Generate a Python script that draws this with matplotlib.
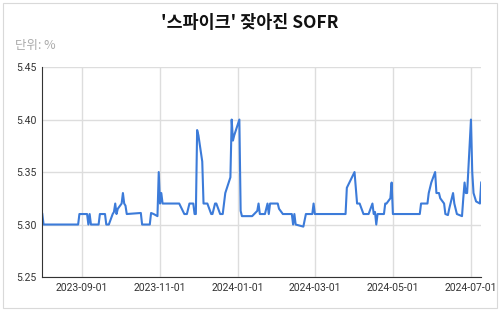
import numpy as np
import pandas as pd
import matplotlib
matplotlib.use('Agg')
import matplotlib.pyplot as plt
import matplotlib.dates as mdates
from matplotlib.patches import Rectangle

plt.rcParams['font.family'] = ['Noto Sans CJK KR', 'DejaVu Sans']

# SOFR (%)
dates = [
    '2023-08-01', '2023-08-02', '2023-08-29', '2023-08-30', '2023-09-05', '2023-09-06',
    '2023-09-07', '2023-09-08', '2023-09-14', '2023-09-15', '2023-09-19', '2023-09-20',
    '2023-09-22', '2023-09-25', '2023-09-26', '2023-09-27', '2023-09-28', '2023-09-29',
    '2023-10-02', '2023-10-03', '2023-10-04', '2023-10-05', '2023-10-06', '2023-10-17',
    '2023-10-18', '2023-10-24', '2023-10-25', '2023-10-27', '2023-10-30', '2023-10-31',
    '2023-11-01', '2023-11-02', '2023-11-03', '2023-11-16', '2023-11-20', '2023-11-22',
    '2023-11-24', '2023-11-27', '2023-11-28', '2023-11-29', '2023-11-30', '2023-12-01',
    '2023-12-04', '2023-12-05', '2023-12-08', '2023-12-11', '2023-12-12', '2023-12-14',
    '2023-12-15', '2023-12-18', '2023-12-20', '2023-12-21', '2023-12-22', '2023-12-26',
    '2023-12-27', '2023-12-28', '2023-12-29', '2024-01-02', '2024-01-03', '2024-01-04',
    '2024-01-12', '2024-01-16', '2024-01-17', '2024-01-18', '2024-01-22', '2024-01-24',
    '2024-01-25', '2024-01-26', '2024-02-01', '2024-02-02', '2024-02-05', '2024-02-12',
    '2024-02-13', '2024-02-14', '2024-02-15', '2024-02-21', '2024-02-23', '2024-02-28',
    '2024-02-29', '2024-03-01', '2024-03-25', '2024-03-26', '2024-03-28', '2024-04-01',
    '2024-04-02', '2024-04-03', '2024-04-05', '2024-04-08', '2024-04-12', '2024-04-15',
    '2024-04-16', '2024-04-17', '2024-04-18', '2024-04-19', '2024-04-24', '2024-04-25',
    '2024-04-26', '2024-04-29', '2024-04-30', '2024-05-01', '2024-05-22', '2024-05-23',
    '2024-05-28', '2024-05-29', '2024-05-31', '2024-06-03', '2024-06-04', '2024-06-06',
    '2024-06-07', '2024-06-10', '2024-06-11', '2024-06-13', '2024-06-14', '2024-06-17',
    '2024-06-18', '2024-06-20', '2024-06-24', '2024-06-25', '2024-06-26', '2024-06-27',
    '2024-06-28', '2024-07-01', '2024-07-02', '2024-07-03', '2024-07-05', '2024-07-08',
    '2024-07-09',
]
sofr = [
    5.31, 5.30, 5.30, 5.31, 5.31, 5.30,
    5.31, 5.30, 5.30, 5.31, 5.31, 5.30,
    5.30, 5.31, 5.312, 5.32, 5.31, 5.315,
    5.32, 5.33, 5.32, 5.318, 5.31, 5.311,
    5.30, 5.30, 5.311, 5.31, 5.308, 5.35,
    5.32, 5.33, 5.32, 5.32, 5.31, 5.31,
    5.32, 5.32, 5.31, 5.31, 5.39, 5.385,
    5.36, 5.32, 5.32, 5.31, 5.31, 5.32,
    5.32, 5.31, 5.31, 5.32, 5.33, 5.345,
    5.40, 5.38, 5.385, 5.40, 5.313, 5.308,
    5.308, 5.313, 5.32, 5.31, 5.31, 5.32,
    5.31, 5.32, 5.32, 5.315, 5.31, 5.31,
    5.30, 5.31, 5.30, 5.298, 5.31, 5.31,
    5.32, 5.31, 5.31, 5.335, 5.34, 5.35,
    5.335, 5.32, 5.32, 5.31, 5.31, 5.32,
    5.31, 5.312, 5.30, 5.31, 5.31, 5.32,
    5.32, 5.325, 5.34, 5.31, 5.31, 5.32,
    5.32, 5.33, 5.34, 5.35, 5.33, 5.33,
    5.325, 5.32, 5.31, 5.309, 5.315, 5.33,
    5.32, 5.31, 5.308, 5.325, 5.34, 5.33,
    5.33, 5.40, 5.35, 5.33, 5.322, 5.32,
    5.34,
]
yticks = [5.25, 5.30, 5.35, 5.40, 5.45]
xticks = ['2023-09-01', '2023-11-01', '2024-01-01', '2024-03-01', '2024-05-01', '2024-07-01']

x = pd.to_datetime(dates)

fig = plt.figure(figsize=(5, 3.11), dpi=100)
fig.patches.append(Rectangle((3 / 500, 3 / 311), 494 / 500, 305 / 311, transform=fig.transFigure,
                             facecolor='white', edgecolor='#d9d9d9', lw=0.8, zorder=-1))

ax = fig.add_axes([0.0846, 0.1093, 0.8778, 0.675])
ax.plot(x, sofr, color='#3c7bd9', lw=1.5, solid_joinstyle='round')

ax.set_xlim(x[0], x[-1])
ax.set_ylim(5.25, 5.45)
ax.set_yticks(yticks)
ax.set_yticklabels(['%.2f' % v for v in yticks])
ax.set_xticks(pd.to_datetime(xticks))
ax.xaxis.set_major_formatter(mdates.DateFormatter('%Y-%m-%d'))

ax.grid(True, color='#dddddd', lw=1.0)
ax.set_axisbelow(True)
for s in ['top', 'right']:
    ax.spines[s].set_visible(False)
ax.spines['left'].set_color('#333333')
ax.spines['bottom'].set_color('#333333')
ax.tick_params(length=0, labelsize=7.5, colors='#333333', pad=4)
for lab in ax.get_xticklabels() + ax.get_yticklabels():
    lab.set_family(['Roboto', 'DejaVu Sans'])

fig.text(0.5, 0.925, "'스파이크' 잦아진 SOFR", ha='center', va='center',
         fontsize=12.5, fontweight='bold', color='#111111')
fig.text(0.03, 0.855, '단위: %', ha='left', va='center', fontsize=9, color='#aaaaaa')

fig.savefig('out.png', dpi=100)
